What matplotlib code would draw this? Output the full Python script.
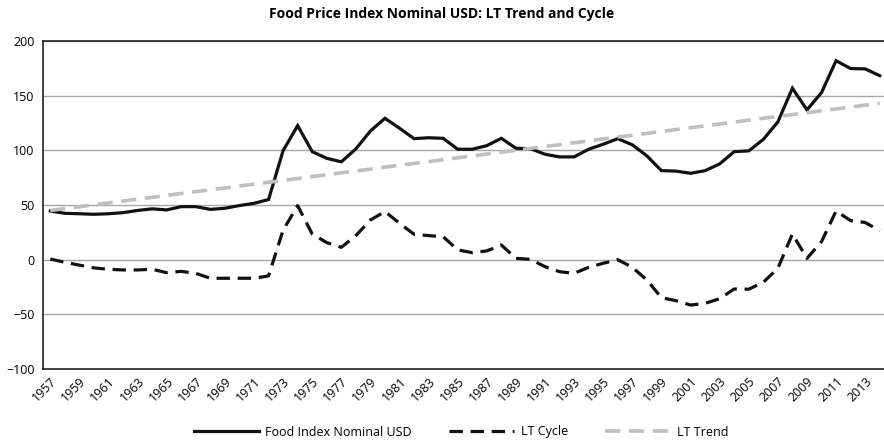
import matplotlib
matplotlib.use('Agg')
import matplotlib.pyplot as plt

years = list(range(1957, 2015))

food_index = [44.5, 42.4, 42.0, 41.5, 42.0, 43.0, 45.0, 46.5, 45.5, 48.5,
              48.5, 46.0, 47.0, 49.5, 51.5, 55.0, 99.7, 122.6, 98.8, 92.7,
              89.5, 101.3, 117.7, 129.3, 120.2, 110.7, 111.5, 111.0, 101.0, 101.0,
              104.3, 111.0, 101.9, 101.5, 96.4, 94.0, 94.0, 101.0, 105.6, 110.7,
              105.0, 94.9, 81.4, 81.0, 79.0, 81.4, 87.6, 98.8, 99.5, 110.0,
              126.0, 156.8, 137.0, 152.8, 182.0, 174.8, 174.5, 168.3]

lt_cycle = [0.6, -2.4, -5.0, -7.5, -8.8, -9.4, -9.4, -8.8, -11.9, -10.7,
            -12.5, -17.0, -17.0, -17.0, -17.0, -14.9, 27.0, 49.4, 23.5, 15.6,
            11.3, 22.0, 36.3, 44.0, 33.3, 23.2, 22.0, 21.0, 8.9, 6.4,
            8.0, 13.4, 1.2, 0.3, -6.4, -11.0, -12.5, -7.0, -3.3, 0.0,
            -7.0, -18.6, -34.8, -37.5, -41.5, -40.0, -35.7, -26.8, -27.0, -20.7,
            -7.9, 23.5, 1.2, 16.5, 44.5, 35.7, 34.0, 26.5]

lt_trend = [45.0, 46.7, 48.4, 50.2, 51.9, 53.6, 55.3, 57.0, 58.8, 60.5,
            62.2, 63.9, 65.6, 67.4, 69.1, 70.8, 72.5, 74.2, 76.0, 77.7,
            79.4, 81.1, 82.8, 84.6, 86.3, 88.0, 89.7, 91.4, 93.2, 94.9,
            96.6, 98.3, 100.0, 101.8, 103.5, 105.2, 106.9, 108.6, 110.4, 112.1,
            113.8, 115.5, 117.2, 119.0, 120.7, 122.4, 124.1, 125.8, 127.6, 129.3,
            131.0, 132.7, 134.4, 136.2, 137.9, 139.6, 141.3, 143.0]

plt.rcParams['font.family'] = ['Open Sans', 'DejaVu Sans']

fig = plt.figure(figsize=(8.84, 4.43), dpi=100)
ax = fig.add_axes([43 / 884, 1 - 369 / 443, 844 / 884, 328 / 443])

ax.plot(years, food_index, color='#111111', lw=2.3, solid_joinstyle='miter',
        label='Food Index Nominal USD')
ax.plot(years, lt_cycle, color='#111111', lw=2.3, dashes=(4.2, 2.4),
        label='LT Cycle')
ax.plot(years, lt_trend, color='#bfbfbf', lw=2.6, dashes=(4.2, 2.4),
        label='LT Trend')

ax.set_xlim(1956.5, 2014.5)
ax.set_ylim(-100, 200)
ax.set_yticks(range(-100, 201, 50))
ax.set_xticks(years[::2])
ax.set_xticklabels([str(y) for y in years[::2]], rotation=45, ha='right',
                   rotation_mode='anchor', fontsize=9)
ax.tick_params(axis='y', labelsize=9, length=0, pad=6)
ax.tick_params(axis='x', length=0, pad=4)

ax.grid(axis='y', color='#a6a6a6', lw=1)
ax.set_axisbelow(True)
for s in ['left', 'bottom', 'top']:
    ax.spines[s].set_color('#222222')
    ax.spines[s].set_linewidth(1.2)
ax.spines['right'].set_visible(False)

fig.text(0.5, 1 - 14 / 443, 'Food Price Index Nominal USD: LT Trend and Cycle',
         fontsize=10, fontweight='bold', ha='center', va='center')

fig.legend(loc='center', bbox_to_anchor=(461 / 884, 1 - 432 / 443), ncol=3,
           frameon=False, fontsize=9, handlelength=5.2, columnspacing=3,
           handletextpad=0.5)

fig.savefig('out.png', dpi=100)
